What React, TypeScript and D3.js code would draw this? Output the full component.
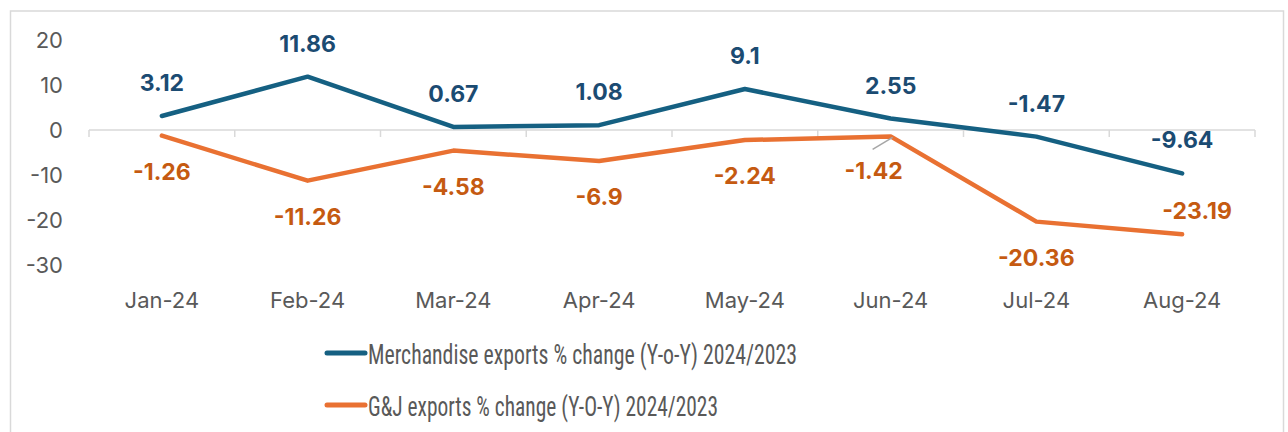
import React from "react";
import * as d3 from "d3";

const categories = ["Jan-24", "Feb-24", "Mar-24", "Apr-24", "May-24", "Jun-24", "Jul-24", "Aug-24"];
const merchandise = [3.12, 11.86, 0.67, 1.08, 9.1, 2.55, -1.47, -9.64];
const gj = [-1.26, -11.26, -4.58, -6.9, -2.24, -1.42, -20.36, -23.19];
const yTicks = [20, 10, 0, -10, -20, -30];
const seriesNames = [
  "Merchandise exports % change  (Y-o-Y) 2024/2023",
  "G&J exports % change (Y-O-Y) 2024/2023",
];

const W = 1288;
const H = 432;
const BLUE = "#156082";
const ORANGE = "#E97132";
const BLUE_TXT = "#1B4B72";
const ORANGE_TXT = "#C55A11";
const AXIS = "#D9D9D9";
const TICK_TXT = "#595959";
const FONT = "Inter, 'Liberation Sans', Arial, sans-serif";
const NARROW = "'Liberation Sans Narrow', 'Roboto Condensed', Roboto, sans-serif";

// label placement adjustments (dx, dy from default position)
const gjLabelAdjust: Record<number, { dx: number; dy: number; leader?: boolean }> = {
  5: { dx: -17, dy: -1, leader: true },
  7: { dx: 15, dy: -59 },
};

export default function App() {
  const x = d3.scaleBand<string>().domain(categories).range([89, 1255]);
  const y = d3.scaleLinear().domain([-30, 20]).range([265, 40]);
  const cx = (c: string) => (x(c) as number) + x.bandwidth() / 2;

  const line = d3
    .line<number>()
    .x((_, i) => cx(categories[i]))
    .y((d) => y(d));

  const bounds = [...categories.map((c) => x(c) as number), 1255];

  return (
    <svg
      width={W}
      height={H}
      style={{ position: "absolute", left: 0, top: 0, background: "#fff" }}
    >
      <rect x={10.5} y={11} width={1273} height={440} fill="#fff" stroke={AXIS} strokeWidth={1.5} />

      {/* y tick labels */}
      {yTicks.map((t) => (
        <text
          key={t}
          x={63}
          y={y(t)}
          textAnchor="end"
          dominantBaseline="central"
          fontFamily={FONT}
          fontSize={22}
          fill={TICK_TXT}
        >
          {t}
        </text>
      ))}

      {/* zero axis */}
      <line x1={89} x2={1255} y1={y(0)} y2={y(0)} stroke={AXIS} strokeWidth={1.5} />
      {bounds.map((b, i) => (
        <line key={i} x1={b} x2={b} y1={y(0)} y2={y(0) + 7} stroke={AXIS} strokeWidth={1.5} />
      ))}

      {/* category labels */}
      {categories.map((c) => (
        <text
          key={c}
          x={cx(c)}
          y={300}
          textAnchor="middle"
          dominantBaseline="central"
          fontFamily={FONT}
          fontSize={22}
          fill={TICK_TXT}
        >
          {c}
        </text>
      ))}

      {/* lines */}
      <path d={line(merchandise) || ""} fill="none" stroke={BLUE} strokeWidth={4.5} strokeLinecap="round" strokeLinejoin="round" />
      <path d={line(gj) || ""} fill="none" stroke={ORANGE} strokeWidth={4.5} strokeLinecap="round" strokeLinejoin="round" />

      {/* data labels: merchandise */}
      {merchandise.map((v, i) => (
        <text
          key={"m" + i}
          x={cx(categories[i])}
          y={y(v) - 33}
          textAnchor="middle"
          dominantBaseline="central"
          fontFamily={FONT}
          fontWeight={700}
          fontSize={23}
          fill={BLUE_TXT}
        >
          {v}
        </text>
      ))}

      {/* data labels: G&J */}
      {gj.map((v, i) => {
        const adj = gjLabelAdjust[i] || { dx: 0, dy: 0 };
        const px = cx(categories[i]);
        const py = y(v);
        const lx = px + adj.dx;
        const ly = py + 36 + adj.dy;
        return (
          <g key={"g" + i}>
            {adj.leader && (
              <line x1={lx - 1} y1={ly - 22} x2={px + 2} y2={py + 1} stroke="#A6A6A6" strokeWidth={1.5} />
            )}
            <text
              x={lx}
              y={ly}
              textAnchor="middle"
              dominantBaseline="central"
              fontFamily={FONT}
              fontWeight={700}
              fontSize={23}
              fill={ORANGE_TXT}
            >
              {v}
            </text>
          </g>
        );
      })}

      {/* legend */}
      {[BLUE, ORANGE].map((col, i) => {
        const ly = 353 + i * 52;
        return (
          <g key={"lg" + i}>
            <line x1={327} x2={365} y1={ly} y2={ly} stroke={col} strokeWidth={5} strokeLinecap="round" />
            <text
              x={368}
              y={ly + 2}
              dominantBaseline="central"
              fontFamily={NARROW}
              fontSize={27}
              fill={TICK_TXT}
              textLength={i === 0 ? 429 : 350}
              lengthAdjust="spacingAndGlyphs"
            >
              {seriesNames[i]}
            </text>
          </g>
        );
      })}
    </svg>
  );
}
